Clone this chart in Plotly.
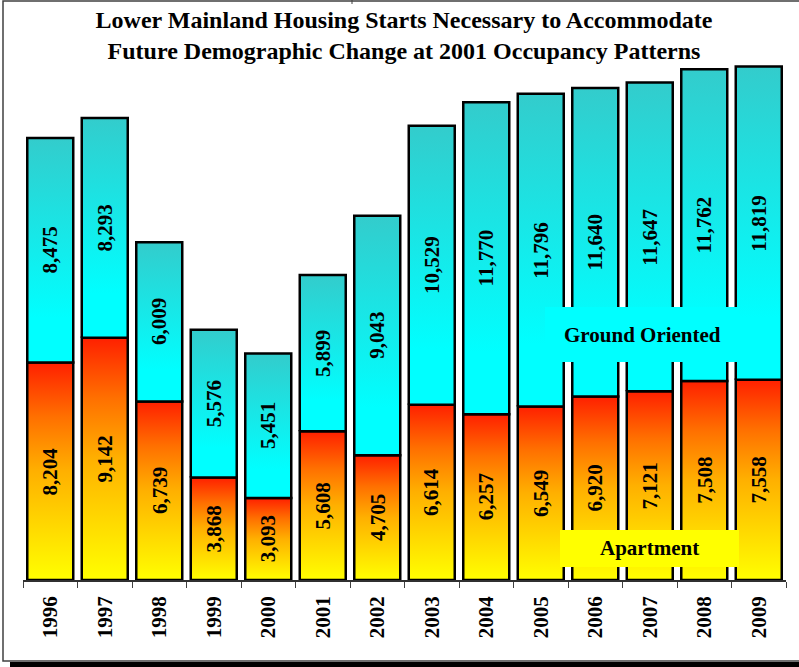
import plotly.graph_objects as go

# Lower Mainland housing starts by dwelling type
years = ["1996", "1997", "1998", "1999", "2000", "2001", "2002",
         "2003", "2004", "2005", "2006", "2007", "2008", "2009"]
apartment = [8204, 9142, 6739, 3868, 3093, 5608, 4705,
             6614, 6257, 6549, 6920, 7121, 7508, 7558]
ground_oriented = [8475, 8293, 6009, 5576, 5451, 5899, 9043,
                   10529, 11770, 11796, 11640, 11647, 11762, 11819]

title_text = ("Lower Mainland Housing Starts Necessary to Accommodate<br>"
              "Future Demographic Change at 2001 Occupancy Patterns")

W, H = 799, 667
ML, MR, MT, MB = 23, 13, 20, 87
PW, PH = W - ML - MR, H - MT - MB
Y_MAX = 21130
HALF = 0.422  # half bar width in category units

SERIF = "Liberation Serif, Times New Roman, serif"

apt_scale = [[0, "#FFFF00"], [0.25, "#FFD800"], [0.5, "#FFB000"],
             [0.75, "#FF7000"], [1, "#FF2000"]]
grd_scale = [[0, "#00FFFF"], [0.2, "#00FFFF"], [1, "#33CCCC"]]


def fx(px):
    return (px - ML) / PW


def fy(py):
    return (H - MB - py) / PH


fig = go.Figure()
annotations = []


def add_segment(i, base, value, scale):
    top = base + value
    fig.add_trace(go.Scatter(
        x=[i - HALF, i + HALF, i + HALF, i - HALF, i - HALF],
        y=[base, base, top, top, base],
        mode="lines",
        fill="toself",
        fillgradient=dict(type="vertical", colorscale=scale,
                          start=base, stop=top),
        line=dict(color="black", width=2.5),
        hoverinfo="skip",
        showlegend=False,
    ))
    annotations.append(dict(
        x=i, y=base + value / 2, xref="x", yref="y",
        xanchor="center", yanchor="middle",
        text=f"{value:,}", textangle=-90, showarrow=False,
        font=dict(family=SERIF, size=21, color="black", weight="bold"),
    ))


for i, (a, g) in enumerate(zip(apartment, ground_oriented)):
    add_segment(i, 0, a, apt_scale)
    add_segment(i, a, g, grd_scale)

# series labels on coloured panels
annotations.append(dict(
    x=fx(642), y=fy(335), xref="paper", yref="paper",
    xanchor="center", yanchor="middle",
    text="Ground Oriented", showarrow=False,
    font=dict(family=SERIF, size=21, color="black", weight="bold"),
))
annotations.append(dict(
    x=fx(649), y=fy(548), xref="paper", yref="paper",
    xanchor="center", yanchor="middle",
    text="Apartment", showarrow=False,
    font=dict(family=SERIF, size=21, color="black", weight="bold"),
))

shapes = [
    # drop shadow under the frame
    dict(type="rect", xref="paper", yref="paper",
         x0=fx(10), x1=fx(830), y0=fy(668), y1=fy(662),
         fillcolor="black", line=dict(width=0), layer="below"),
    # outer frame
    dict(type="rect", xref="paper", yref="paper",
         x0=fx(3), x1=fx(830), y0=fy(661), y1=fy(1),
         line=dict(color="#404040", width=1.5), layer="below"),
    dict(type="line", xref="paper", yref="paper",
         x0=fx(352), x1=fx(352), y0=fy(0), y1=fy(4),
         line=dict(color="#404040", width=1)),
    # label panels
    dict(type="rect", xref="paper", yref="paper",
         x0=fx(545), x1=fx(739), y0=fy(362), y1=fy(307),
         fillcolor="#00FFFF", line=dict(width=0), layer="above"),
    dict(type="rect", xref="paper", yref="paper",
         x0=fx(560), x1=fx(739), y0=fy(567), y1=fy(530),
         fillcolor="#FFFF00", line=dict(width=0), layer="above"),
]

fig.update_layout(
    width=W, height=H,
    margin=dict(l=ML, r=MR, t=MT, b=MB, autoexpand=False),
    paper_bgcolor="white",
    plot_bgcolor="rgba(0,0,0,0)",
    title=dict(text=title_text, x=404 / W, xanchor="center",
               y=1 - 28 / H, yanchor="middle",
               font=dict(family=SERIF, size=24, color="black", weight="bold")),
    xaxis=dict(
        range=[-0.5, len(years) - 0.5],
        tickmode="array",
        tickvals=list(range(len(years))),
        ticktext=years,
        tickangle=-90,
        ticks="",
        ticklabelstandoff=6,
        tickfont=dict(family=SERIF, size=21, color="black", weight="bold"),
        minor=dict(tickmode="linear", tick0=-0.5, dtick=1, ticks="outside",
                   ticklen=6, tickwidth=1, tickcolor="#404040"),
        showline=True, linecolor="#303030", linewidth=1.5,
        showgrid=False, zeroline=False, automargin=False,
    ),
    yaxis=dict(
        range=[0, Y_MAX], visible=False, showgrid=False, zeroline=False,
    ),
    shapes=shapes,
    annotations=annotations,
    showlegend=False,
)

fig.write_html("out.html")
